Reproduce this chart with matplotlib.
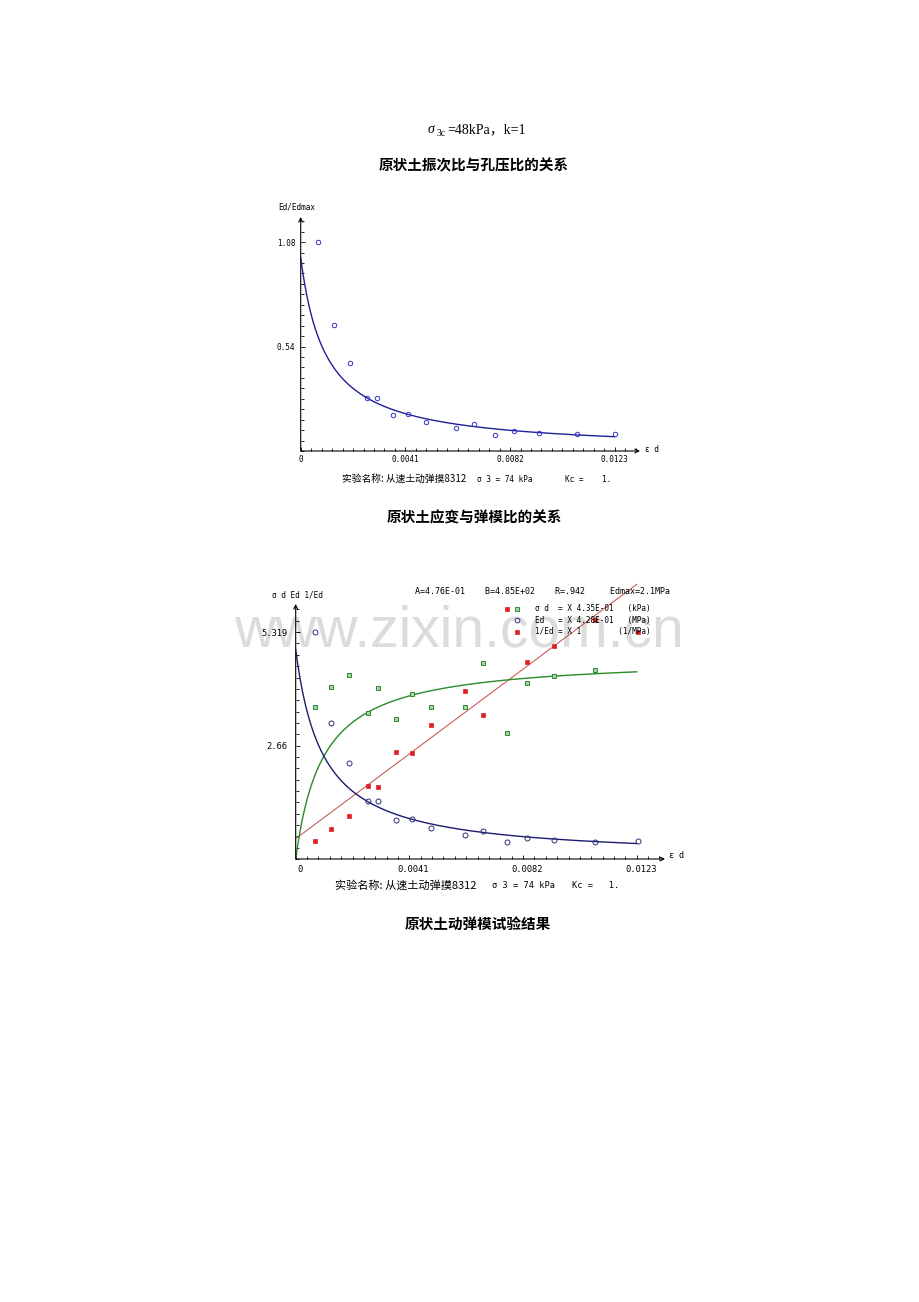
import numpy as np
import matplotlib
matplotlib.use('Agg')
import matplotlib.pyplot as plt
from matplotlib.ticker import MultipleLocator
from matplotlib.lines import Line2D
from matplotlib.transforms import ScaledTranslation

# --- data ---
strain = [0.000697, 0.00129, 0.00194, 0.00259, 0.00298, 0.00360, 0.00421, 0.00489,
          0.00610, 0.00677, 0.00761, 0.00834, 0.00933, 0.01081, 0.01233]
ed_ratio = [1.08, 0.649, 0.457, 0.276, 0.276, 0.188, 0.191, 0.152,
            0.117, 0.138, 0.081, 0.102, 0.095, 0.086, 0.090]
ed_scaled = [5.319, 3.198, 2.252, 1.353, 1.353, 0.907, 0.930, 0.735,
             0.571, 0.665, 0.391, 0.485, 0.446, 0.407, 0.422]
sd_scaled = [3.573, 4.028, 4.316, 3.418, 4.011, 3.277, 3.870, 3.558,
             3.558, 4.590, 2.948, 4.135, 4.293, 4.433]
inv_ed = [0.422, 0.711, 1.016, 1.705, 1.689, 2.510, 2.494, 3.136,
          3.934, 3.371, 5.864, 4.614, 5.003, 5.606, 5.332]

# hyperbolic fit printed on the chart: 1/Ed = A + B*eps
A_FIT = 0.476
B_FIT = 485.0
ED_SCALE = 0.428
SD_SCALE = 0.435

x_ticks = [0, 0.0041, 0.0082, 0.0123]
x_labels = ['0', '0.0041', '0.0082', '0.0123']

W, H = 920, 1302
MONO = 'DejaVu Sans Mono'
CJK = ['Noto Sans CJK SC', 'DejaVu Sans']
SERIF = ['Liberation Serif', 'Noto Sans CJK SC']


def fx(px):
    return px / W


def fy(py):
    return 1 - py / H


def pixel_axes(fig, left, right, top, bottom):
    ax = fig.add_axes([fx(left), fy(bottom), (right - left) / W, (bottom - top) / H])
    ax.patch.set_visible(False)
    for s in ax.spines.values():
        s.set_visible(False)
    arrow = dict(arrowstyle='->', color='black', lw=0.8, shrinkA=0, shrinkB=0, mutation_scale=7)
    ax.annotate('', xy=(1, 0), xytext=(0, 0), xycoords='axes fraction', arrowprops=arrow)
    ax.annotate('', xy=(0, 1), xytext=(0, 0), xycoords='axes fraction', arrowprops=arrow)
    return ax


fig = plt.figure(figsize=(9.2, 13.02), dpi=100)

# watermark
fig.text(fx(459), fy(647), 'www.zixin.com.cn', family='Liberation Sans', fontsize=41,
         color='#dcdcdc', ha='center', va='baseline', zorder=-1)

# titles
fig.text(fx(428), fy(133), 'σ', family=SERIF, style='italic', fontsize=10, ha='left', va='baseline')
fig.text(fx(437), fy(136), '3c', family=SERIF, fontsize=7, ha='left', va='baseline')
fig.text(fx(447), fy(133), '=48kPa，k=1', family=SERIF, fontsize=10, ha='left', va='baseline')
fig.text(fx(474), fy(165), '原状土振次比与孔压比的关系', family=CJK, fontsize=10.5,
         fontweight='bold', ha='center', va='center')
fig.text(fx(474), fy(517), '原状土应变与弹模比的关系', family=CJK, fontsize=10.5,
         fontweight='bold', ha='center', va='center')
fig.text(fx(478), fy(924), '原状土动弹模试验结果', family=CJK, fontsize=10.5,
         fontweight='bold', ha='center', va='center')

eps = np.linspace(0, 0.0123, 300)

# ---------------- chart 1 ----------------
ax1 = pixel_axes(fig, 300.7, 640, 217, 451)
ax1.set_xlim(0, 0.01329)
ax1.set_ylim(0, 1.210)
ax1.plot(eps, 1 / (1 + B_FIT / A_FIT * eps), color='#1f1f96', lw=1.0)
ax1.plot(strain, ed_ratio, 'o', ms=3.2, mfc='none', mec='#3535c8', mew=0.7)
ax1.set_xticks(x_ticks)
ax1.set_xticklabels(x_labels)
ax1.set_yticks([0.54, 1.08])
ax1.set_yticklabels(['0.54', '1.08'])
ax1.xaxis.set_minor_locator(MultipleLocator(0.00041))
ax1.yaxis.set_minor_locator(MultipleLocator(0.054))
ax1.tick_params(which='both', direction='in', width=0.6, colors='black')
ax1.tick_params(which='major', length=3)
ax1.tick_params(which='minor', length=2)
ax1.tick_params(axis='x', pad=3, labelsize=5.5)
ax1.tick_params(axis='y', pad=4, labelsize=5.5)
for lab in ax1.get_xticklabels() + ax1.get_yticklabels():
    lab.set_family(MONO)
fig.text(fx(297), fy(207), 'Ed/Edmax', family=MONO, fontsize=5.5, ha='center', va='center')
fig.text(fx(645), fy(449), 'ε d', family=MONO, fontsize=5.5, ha='left', va='center')
fig.text(fx(342), fy(479), '实验名称: 从速土动弹摸8312', family=CJK, fontsize=7, ha='left', va='center')
fig.text(fx(477), fy(479), 'σ 3 = 74 kPa', family=MONO, fontsize=5.6, ha='left', va='center')
fig.text(fx(565), fy(479), 'Kc =    1.', family=MONO, fontsize=5.6, ha='left', va='center')

# ---------------- chart 2 ----------------
ax2 = pixel_axes(fig, 295.7, 665, 604, 859)
ax2.set_xlim(0, 0.01332)
ax2.set_ylim(0, 5.98)
ax2.plot(eps, A_FIT + B_FIT * eps, color='#c84848', lw=0.7, clip_on=False)
ax2.plot(eps, 1000 * eps / (A_FIT + B_FIT * eps) / SD_SCALE, color='#2a8a2a', lw=1.0)
ax2.plot(eps, 1 / (A_FIT + B_FIT * eps) / ED_SCALE, color='#1c1c70', lw=1.0)
ax2.plot(strain, ed_scaled, 'o', ms=3.6, mfc='none', mec='#30307a', mew=0.7)
ax2.plot(strain[:len(sd_scaled)], sd_scaled, 's', ms=2.2, mfc='#a8d4a8', mec='#2a8a2a', mew=0.7)
ax2.plot(strain, inv_ed, 's', ms=2.2, mfc='#e02020', mec='#e02020', mew=0.5, clip_on=False)
ax2.set_xticks(x_ticks)
ax2.set_xticklabels(x_labels)
ax2.set_yticks([2.66, 5.319])
ax2.set_yticklabels(['2.66', '5.319'])
ax2.xaxis.set_minor_locator(MultipleLocator(0.00041))
ax2.yaxis.set_minor_locator(MultipleLocator(0.266))
ax2.tick_params(which='both', direction='in', width=0.6, colors='black')
ax2.tick_params(which='major', length=3)
ax2.tick_params(which='minor', length=2)
ax2.tick_params(axis='x', pad=4, labelsize=6.3)
ax2.tick_params(axis='y', pad=6, labelsize=6.3)
shift = ScaledTranslation(4 / 100, 0, fig.dpi_scale_trans)
for lab in ax2.get_xticklabels():
    lab.set_family(MONO)
    lab.set_transform(lab.get_transform() + shift)
for lab in ax2.get_yticklabels():
    lab.set_family(MONO)
fig.text(fx(297), fy(595), 'σ d Ed 1/Ed', family=MONO, fontsize=5.6, ha='center', va='center')
fig.text(fx(669), fy(856), 'ε d', family=MONO, fontsize=6, ha='left', va='center')
fig.text(fx(415), fy(591), 'A=4.76E-01    B=4.85E+02    R=.942     Edmax=2.1MPa',
         family=MONO, fontsize=6, ha='left', va='center')

# legend rows
legend_rows = ['σ d  = X 4.35E-01   (kPa)', 'Ed   = X 4.28E-01   (MPa)', '1/Ed = X 1        (1/MPa)']
legend_y = [608.5, 620, 631.5]
legend_marks = [dict(marker='s', ms=2.2, mfc='#a8d4a8', mec='#2a8a2a', mew=0.7),
                dict(marker='o', ms=3.4, mfc='none', mec='#30307a', mew=0.7),
                dict(marker='s', ms=2.2, mfc='#e02020', mec='#e02020', mew=0.5)]
for text, py, mk in zip(legend_rows, legend_y, legend_marks):
    fig.add_artist(Line2D([fx(517.5)], [fy(py)], transform=fig.transFigure, ls='none', **mk))
    fig.text(fx(535), fy(py), text, family=MONO, fontsize=5.5, ha='left', va='center')

fig.text(fx(335), fy(886), '实验名称: 从速土动弹摸8312', family=CJK, fontsize=8, ha='left', va='center')
fig.text(fx(492), fy(886), 'σ 3 = 74 kPa', family=MONO, fontsize=6.2, ha='left', va='center')
fig.text(fx(572), fy(886), 'Kc =   1.', family=MONO, fontsize=6.2, ha='left', va='center')

fig.savefig('out.png', dpi=100, facecolor='white')
